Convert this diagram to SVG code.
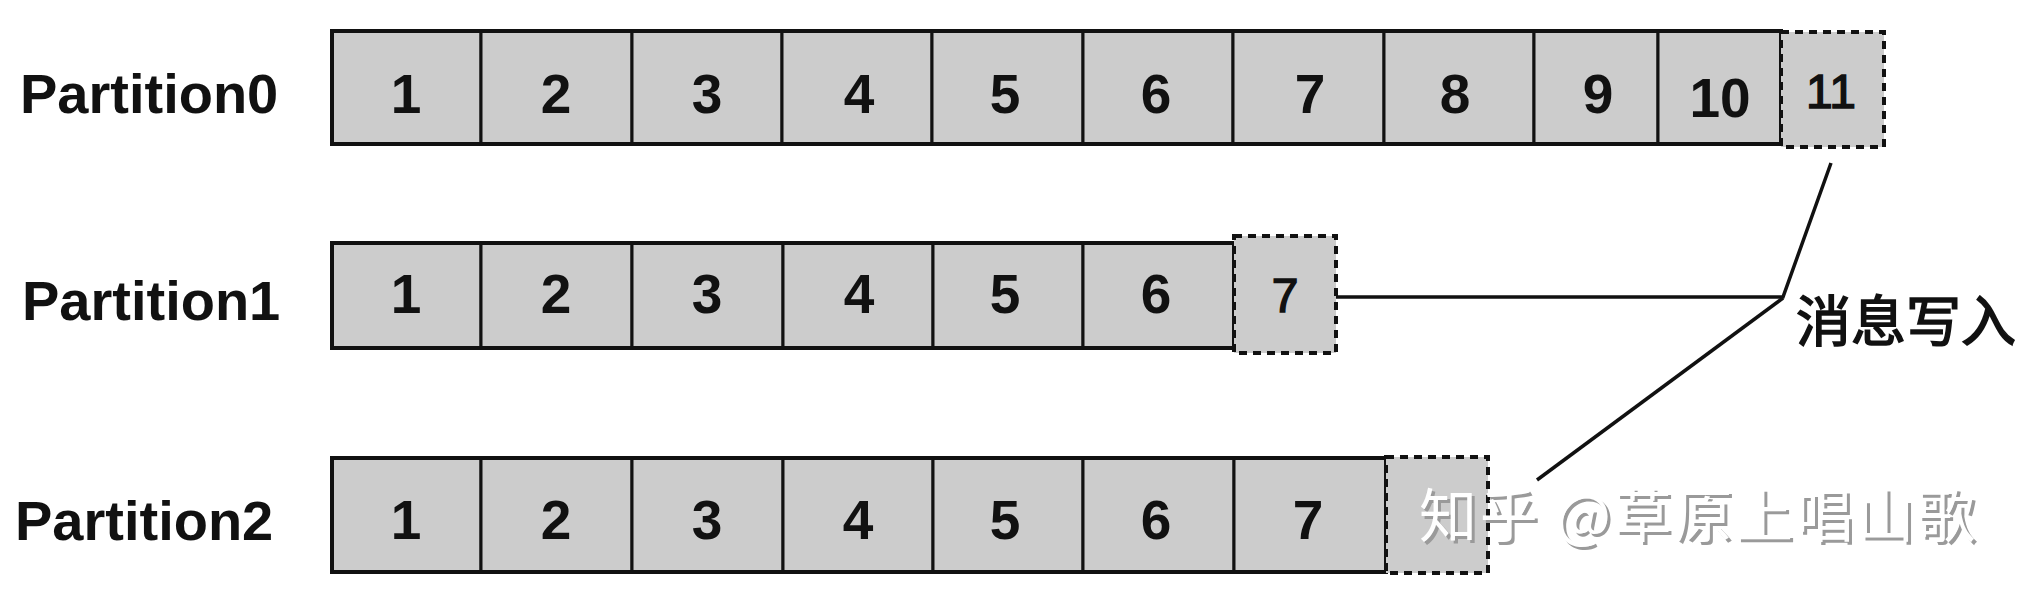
<svg xmlns="http://www.w3.org/2000/svg" width="2030" height="600" viewBox="0 0 2030 600">
<style>
.cell{fill:#cccccc;stroke:#111;stroke-width:3}
.frame{fill:none;stroke:#111;stroke-width:4}
.pending{fill:#cccccc;stroke:#111;stroke-width:4;stroke-dasharray:8 6}
.num{font-family:"Liberation Sans",Arial,sans-serif;font-weight:bold;font-size:55px;fill:#111;text-anchor:middle}
.pnum{font-family:"Liberation Sans",Arial,sans-serif;font-weight:normal;font-size:48px;fill:#111;stroke:#111;stroke-width:1.5;text-anchor:middle}
.label{font-family:"Liberation Sans",Arial,sans-serif;font-weight:bold;font-size:56px;fill:#111}
.cjk{font-family:"Noto Sans CJK SC","Noto Sans CJK JP",sans-serif;font-weight:normal;font-size:55px;fill:#111;stroke:#111;stroke-width:1.6}
.wm{font-family:"Noto Sans CJK SC","Noto Sans CJK JP",sans-serif;font-size:58px}
.conn{fill:none;stroke:#111;stroke-width:3.5;stroke-linejoin:miter}
</style>
<rect width="2030" height="600" fill="#ffffff"/>

<g id="partition0">
  <text class="label" x="20" y="113" font-size="57">Partition0</text>
  <g id="p0-c1"><rect class="cell" x="332" y="31" width="149" height="113"/><text class="num" x="406" y="113">1</text></g>
  <g id="p0-c2"><rect class="cell" x="481" y="31" width="151" height="113"/><text class="num" x="556" y="113">2</text></g>
  <g id="p0-c3"><rect class="cell" x="632" y="31" width="150" height="113"/><text class="num" x="707" y="113">3</text></g>
  <g id="p0-c4"><rect class="cell" x="782" y="31" width="150" height="113"/><text class="num" x="859" y="113">4</text></g>
  <g id="p0-c5"><rect class="cell" x="932" y="31" width="151" height="113"/><text class="num" x="1005" y="113">5</text></g>
  <g id="p0-c6"><rect class="cell" x="1083" y="31" width="150" height="113"/><text class="num" x="1156" y="113">6</text></g>
  <g id="p0-c7"><rect class="cell" x="1233" y="31" width="151" height="113"/><text class="num" x="1310" y="113">7</text></g>
  <g id="p0-c8"><rect class="cell" x="1384" y="31" width="150" height="113"/><text class="num" x="1455" y="113">8</text></g>
  <g id="p0-c9"><rect class="cell" x="1534" y="31" width="124" height="113"/><text class="num" x="1598" y="113">9</text></g>
  <g id="p0-c10"><rect class="cell" x="1658" y="31" width="123" height="113"/><text class="num" x="1720" y="117" font-size="52">10</text></g>
  <rect class="frame" x="332" y="31" width="1449" height="113"/>
  <g id="p0-c11"><rect class="pending" x="1781" y="32" width="103" height="115"/><text class="pnum" x="1831" y="108">11</text></g>
</g>

<g id="partition1">
  <text class="label" x="22" y="320">Partition1</text>
  <g id="p1-c1"><rect class="cell" x="332" y="243" width="149" height="105"/><text class="num" x="406" y="313">1</text></g>
  <g id="p1-c2"><rect class="cell" x="481" y="243" width="151" height="105"/><text class="num" x="556" y="313">2</text></g>
  <g id="p1-c3"><rect class="cell" x="632" y="243" width="151" height="105"/><text class="num" x="707" y="313">3</text></g>
  <g id="p1-c4"><rect class="cell" x="783" y="243" width="150" height="105"/><text class="num" x="859" y="313">4</text></g>
  <g id="p1-c5"><rect class="cell" x="933" y="243" width="150" height="105"/><text class="num" x="1005" y="313">5</text></g>
  <g id="p1-c6"><rect class="cell" x="1083" y="243" width="151" height="105"/><text class="num" x="1156" y="313">6</text></g>
  <rect class="frame" x="332" y="243" width="902" height="105"/>
  <g id="p1-c7"><rect class="pending" x="1234" y="236" width="102" height="117"/><text class="pnum" x="1285" y="312" font-size="47">7</text></g>
</g>

<g id="partition2">
  <text class="label" x="15" y="540">Partition2</text>
  <g id="p2-c1"><rect class="cell" x="332" y="458" width="149" height="114"/><text class="num" x="406" y="539">1</text></g>
  <g id="p2-c2"><rect class="cell" x="481" y="458" width="151" height="114"/><text class="num" x="556" y="539">2</text></g>
  <g id="p2-c3"><rect class="cell" x="632" y="458" width="151" height="114"/><text class="num" x="707" y="539">3</text></g>
  <g id="p2-c4"><rect class="cell" x="783" y="458" width="150" height="114"/><text class="num" x="858" y="539">4</text></g>
  <g id="p2-c5"><rect class="cell" x="933" y="458" width="150" height="114"/><text class="num" x="1005" y="539">5</text></g>
  <g id="p2-c6"><rect class="cell" x="1083" y="458" width="151" height="114"/><text class="num" x="1156" y="539">6</text></g>
  <g id="p2-c7"><rect class="cell" x="1234" y="458" width="152" height="114"/><text class="num" x="1308" y="539">7</text></g>
  <rect class="frame" x="332" y="458" width="1054" height="114"/>
  <g id="p2-c8"><rect class="pending" x="1386" y="457" width="102" height="116"/></g>
</g>

<g id="connectors">
  <polyline class="conn" points="1336,297 1783,297 1831,163"/>
  <line class="conn" x1="1783" y1="298" x2="1537" y2="480"/>
</g>

<g id="write-label">
  <text class="cjk" x="1796" y="341">消息写入</text>
</g>

<g id="watermark">
  <text class="wm" x="1422" y="540" fill="#9a9a9a" textLength="556">知乎 @草原上唱山歌</text>
  <text class="wm" x="1419" y="537" fill="#ffffff" textLength="556">知乎 @草原上唱山歌</text>
</g>
</svg>
